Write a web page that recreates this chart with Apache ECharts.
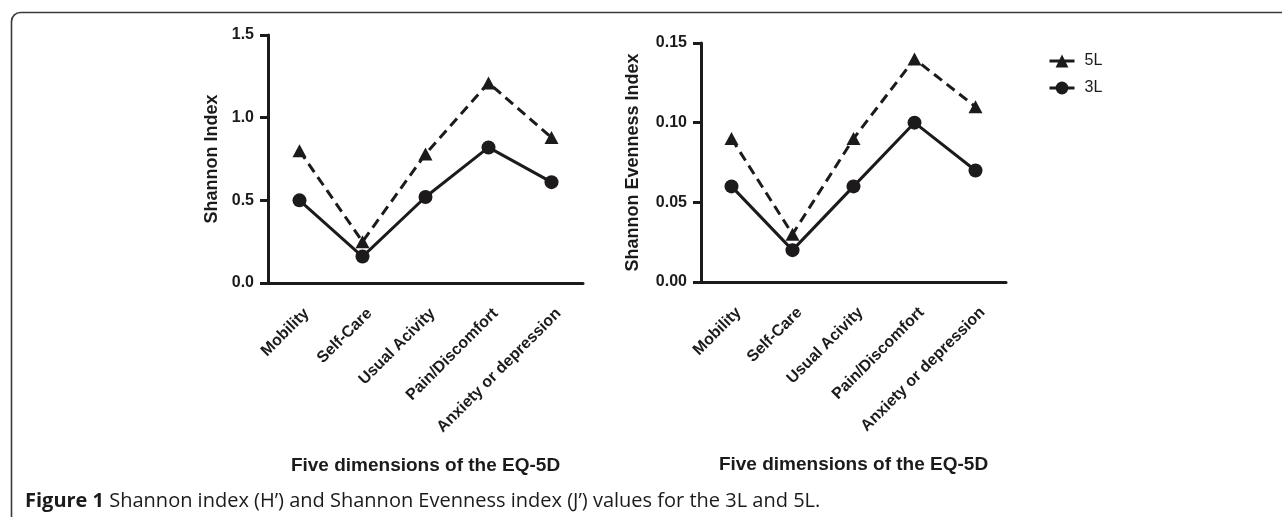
<!DOCTYPE html>
<html>
<head>
<meta charset="utf-8">
<title>Figure 1</title>
<script src="https://cdn.jsdelivr.net/npm/echarts@6/dist/echarts.min.js"></script>
<style>
  html, body { margin: 0; padding: 0; background: #fff; }
  #main { width: 1282px; height: 517px; }
</style>
</head>
<body>
<div id="main"></div>
<script>
// data
var dimensions = ['Mobility', 'Self-Care', 'Usual Acivity', 'Pain/Discomfort', 'Anxiety or depression'];
var seriesNames = ['5L', '3L'];

var shannon5L = [0.80, 0.25, 0.78, 1.21, 0.88];
var shannon3L = [0.50, 0.16, 0.52, 0.82, 0.61];

var evenness5L = [0.09, 0.03, 0.09, 0.14, 0.11];
var evenness3L = [0.06, 0.02, 0.06, 0.10, 0.07];

var shannonTicks = [0.0, 0.5, 1.0, 1.5];
var evennessTicks = [0.00, 0.05, 0.10, 0.15];

var ink = '#1c1a1b';
var chartFont = '"Liberation Sans", Arial, sans-serif';

function xAxisFor(gridIndex) {
  return {
    type: 'category',
    gridIndex: gridIndex,
    data: dimensions,
    name: 'Five dimensions of the EQ-5D',
    nameLocation: 'middle',
    nameGap: 173,
    nameTextStyle: { color: ink, fontFamily: chartFont, fontWeight: 'bold', fontSize: 19, verticalAlign: 'top' },
    axisLine: { lineStyle: { color: ink, width: 3 } },
    axisTick: { alignWithLabel: true, length: 8, lineStyle: { color: ink, width: 3 } },
    axisLabel: {
      interval: 0,
      rotate: 45,
      margin: 21,
      align: 'right',
      verticalAlign: 'top',
      lineHeight: 20,
      color: ink,
      fontFamily: chartFont,
      fontWeight: 'bold',
      fontSize: 16
    },
    splitLine: { show: false }
  };
}

function yAxisFor(gridIndex, name, ticks, digits, gap) {
  return {
    type: 'value',
    gridIndex: gridIndex,
    min: ticks[0],
    max: ticks[ticks.length - 1],
    interval: ticks[1] - ticks[0],
    name: name,
    nameLocation: 'middle',
    nameRotate: 90,
    nameGap: gap,
    nameTextStyle: { color: ink, fontFamily: chartFont, fontWeight: 'bold', fontSize: 18 },
    axisLine: { show: true, lineStyle: { color: ink, width: 3 } },
    axisTick: { show: true, length: 8, lineStyle: { color: ink, width: 3 } },
    axisLabel: {
      margin: 14,
      color: ink,
      fontFamily: chartFont,
      fontWeight: 'bold',
      fontSize: 16,
      formatter: function (v) { return v.toFixed(digits); }
    },
    splitLine: { show: false }
  };
}

function lineSeries(name, data, axisIndex) {
  var dashed = name === '5L';
  return {
    name: name,
    type: 'line',
    xAxisIndex: axisIndex,
    yAxisIndex: axisIndex,
    data: data,
    symbol: dashed ? 'triangle' : 'circle',
    symbolSize: dashed ? [14, 13] : 14,
    itemStyle: { color: ink },
    lineStyle: { color: ink, width: 3, type: dashed ? [10, 6] : 'solid' },
    animation: false
  };
}

var chart = echarts.init(document.getElementById('main'), null, { renderer: 'canvas' });

var option = {
  backgroundColor: '#fff',
  animation: false,
  grid: [
    { left: 268, top: 35, width: 315, height: 248 },
    { left: 701, top: 43, width: 305, height: 239 }
  ],
  legend: {
    data: seriesNames,
    orient: 'vertical',
    left: 1043,
    top: 48,
    itemWidth: 25,
    itemHeight: 16,
    itemGap: 11,
    lineStyle: { type: 'solid', width: 3 },
    textStyle: { color: ink, fontFamily: chartFont, fontSize: 16, padding: [0, 0, 0, 5] }
  },
  xAxis: [xAxisFor(0), xAxisFor(1)],
  yAxis: [
    yAxisFor(0, 'Shannon Index', shannonTicks, 1, 47),
    yAxisFor(1, 'Shannon Evenness Index', evennessTicks, 2, 59)
  ],
  series: [
    lineSeries('5L', shannon5L, 0),
    lineSeries('3L', shannon3L, 0),
    lineSeries('5L', evenness5L, 1),
    lineSeries('3L', evenness3L, 1)
  ],
  graphic: [
    {
      // page frame with rounded corner
      type: 'rect',
      left: 9, top: 10,
      shape: { width: 1300, height: 520, r: 9 },
      style: { fill: 'none', stroke: '#3a3a3a', lineWidth: 1.6 },
      silent: true
    },
    {
      type: 'text',
      left: 25,
      top: 491,
      style: {
        text: '{b|Figure 1} Shannon index (H\u2019) and Shannon Evenness index (J\u2019) values for the 3L and 5L.',
        fill: ink,
        font: '20px "Open Sans", sans-serif',
        rich: { b: { fontWeight: 'bold', fontFamily: '"Open Sans", sans-serif', fontSize: 20, fill: ink } }
      }
    }
  ]
};

chart.setOption(option);
</script>
</body>
</html>
